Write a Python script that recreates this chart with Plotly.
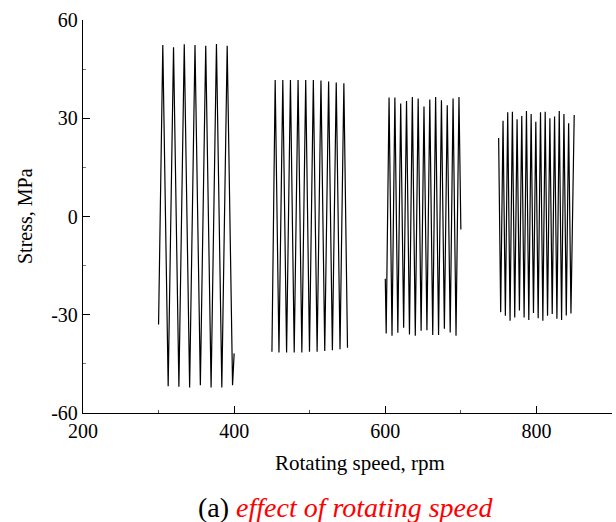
import plotly.graph_objects as go

# Stress signal at four rotating speeds: x = rotating speed (rpm), y = stress (MPa),
# sampled at the turning points of each oscillation.
speed_300_x = [300.0, 305.6, 312.7, 319.8, 326.9, 334.0, 341.1, 348.2, 355.3,
               362.4, 369.5, 376.6, 383.7, 390.8, 397.9, 400.0]
speed_300_y = [-33.0, 52.4, -51.8, 51.7, -52.0, 52.6, -52.2, 52.4, -51.5,
               52.1, -52.2, 52.7, -52.2, 52.1, -51.5, -41.8]

speed_450_x = [450.0, 454.3, 459.3, 464.4, 469.4, 474.5, 479.5, 484.6, 489.6,
               494.7, 499.7, 504.8, 509.8, 514.9, 519.9, 525.0, 530.0, 535.1,
               540.1, 545.2, 550.0]
speed_450_y = [-41.3, 41.7, -41.5, 41.7, -41.5, 41.7, -41.5, 41.7, -41.5,
               41.7, -41.3, 41.7, -41.3, 41.5, -41.1, 41.2, -40.8, 40.9,
               -40.5, 40.7, -40.1]

speed_600_x = [600.0, 601.2, 605.0, 608.9, 612.7, 616.6, 620.4, 624.3, 628.1,
               632.0, 635.8, 639.7, 643.5, 647.4, 651.2, 655.1, 658.9, 662.8,
               666.6, 670.5, 674.3, 678.2, 682.0, 685.9, 689.7, 693.6, 697.5,
               700.0]
speed_600_y = [-19.0, -35.7, 36.3, -36.4, 36.3, -35.5, 34.5, -34.0, 35.3,
               -36.0, 36.5, -36.4, 36.0, -34.9, 33.6, -34.7, 35.7, -36.2,
               36.5, -36.2, 35.5, -34.3, 34.0, -35.4, 36.0, -36.4, 36.5,
               -4.0]

speed_750_x = [750.0, 752.7, 755.8, 758.9, 762.0, 765.1, 768.2, 771.3, 774.4,
               777.5, 780.6, 783.7, 786.8, 789.9, 793.0, 796.1, 799.2, 802.3,
               805.4, 808.5, 811.6, 814.7, 817.8, 820.9, 824.0, 827.1, 830.2,
               833.3, 836.4, 839.5, 842.6, 845.7, 850.0]
speed_750_y = [24.0, -29.2, 29.2, -30.3, 31.8, -31.8, 32.0, -30.8, 29.7,
               -28.7, 30.7, -30.8, 32.2, -31.6, 31.3, -29.5, 28.9, -31.1,
               31.8, -31.8, 32.0, -30.3, 30.0, -29.8, 30.5, -31.2, 32.2,
               -31.6, 31.3, -30.2, 28.5, -29.6, 31.0]

segments = [
    (speed_300_x, speed_300_y),
    (speed_450_x, speed_450_y),
    (speed_600_x, speed_600_y),
    (speed_750_x, speed_750_y),
]

x_ticks = [200, 400, 600, 800]
x_tick_text = ["200", "400", "600", "800"]
y_ticks = [-60, -30, 0, 30, 60]
y_tick_text = ["-60", "-30", "0", "30", "60"]

SERIF = "Liberation Serif"

fig = go.Figure()
for xs, ys in segments:
    fig.add_trace(go.Scatter(
        x=xs, y=ys, mode="lines",
        line=dict(color="black", width=1.2),
        showlegend=False, hoverinfo="skip",
    ))

W, H = 616, 522
ML, MR, MT, MB = 83, 4, 20, 109
plot_h = H - MT - MB
plot_w = W - ML - MR


def paper_y(px):
    return (H - MB - px) / plot_h


def paper_x(px):
    return (px - ML) / plot_w


axis_common = dict(
    showline=True, linecolor="black", linewidth=1.3,
    ticks="inside", ticklen=7, tickwidth=1.2, tickcolor="black",
    showgrid=False, zeroline=False, mirror=False,
    tickfont=dict(family=SERIF, size=20, color="black"),
)

fig.update_layout(
    width=W, height=H,
    margin=dict(l=ML, r=MR, t=MT, b=MB),
    paper_bgcolor="white", plot_bgcolor="white",
    xaxis=dict(
        range=[200, 900], tickvals=x_ticks, ticktext=x_tick_text,
        minor=dict(dtick=100, ticks="inside", ticklen=3, tickcolor="#555", tickwidth=1),
        **axis_common,
    ),
    yaxis=dict(
        range=[-60, 60], tickvals=y_ticks, ticktext=y_tick_text,
        minor=dict(dtick=15, ticks="inside", ticklen=3, tickcolor="#777", tickwidth=1),
        **axis_common,
    ),
    annotations=[
        dict(text="Rotating speed, rpm", xref="paper", yref="paper",
             x=paper_x(360), y=paper_y(463), xanchor="center", yanchor="middle",
             showarrow=False, font=dict(family=SERIF, size=21, color="black")),
        dict(text="Stress, MPa", xref="paper", yref="paper",
             x=paper_x(25), y=paper_y(216), xanchor="center", yanchor="middle",
             textangle=-90, showarrow=False,
             font=dict(family=SERIF, size=20, color="black")),
        dict(text="(a) <span style='color:#ff0000'><i>effect of rotating speed</i></span>",
             xref="paper", yref="paper",
             x=paper_x(345), y=paper_y(507), xanchor="center", yanchor="middle",
             showarrow=False, font=dict(family=SERIF, size=28, color="black")),
    ],
)

fig.write_html("out.html")
